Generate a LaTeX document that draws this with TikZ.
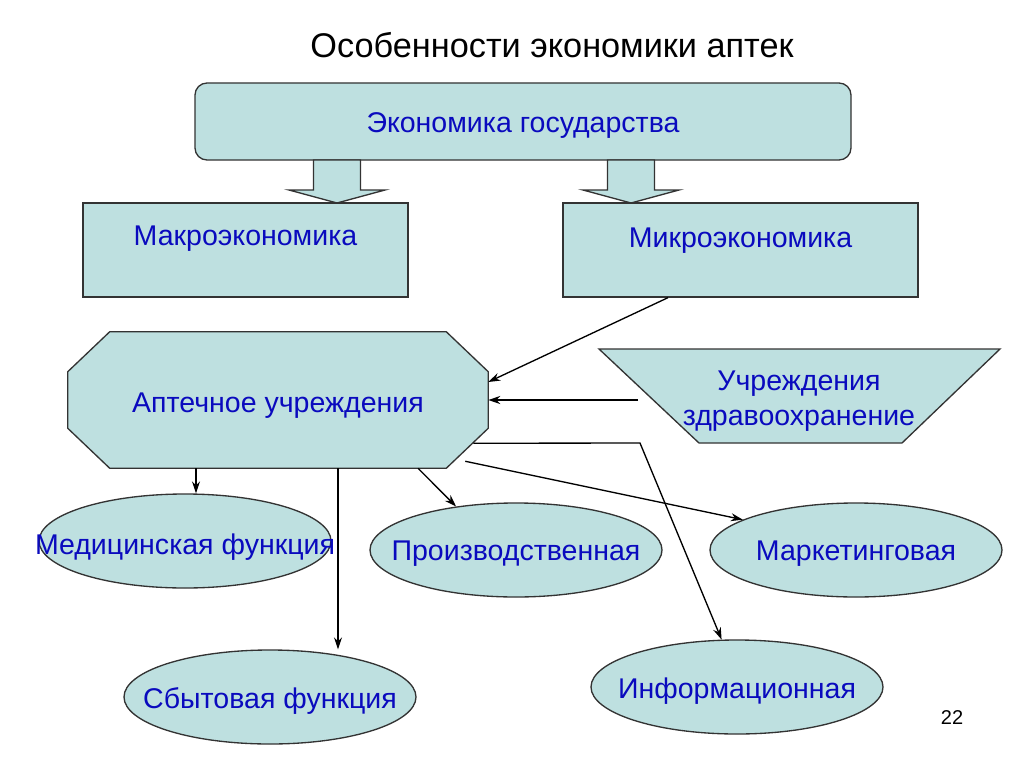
\documentclass[tikz,border=0pt]{standalone}
\usepackage{fontspec}
\setmainfont{Liberation Sans}
\usetikzlibrary{arrows.meta,shapes.geometric,backgrounds}
\definecolor{boxfill}{RGB}{190,224,224}
\definecolor{txtblue}{RGB}{10,10,190}
\begin{document}
\begin{tikzpicture}[x=0.75pt,y=-0.75pt,
  box/.style={draw=black!80,line width=1pt,fill=boxfill},
  txt/.style={text=txtblue,font=\fontsize{21.4}{26.5}\selectfont,inner sep=0pt},
  oval/.style={box,ellipse,minimum width=219pt,minimum height=70.5pt,inner sep=0pt},
  arr/.style={line width=1pt,-{Stealth[length=9pt,width=6pt]}},
  every label/.style={txt,yshift=-3pt}]
\useasboundingbox (0,0) rectangle (1024,767);
\node(title) at (552,45) {\fontsize{25.7}{30}\selectfont Особенности экономики аптек};

\node(econ) [box,rounded corners=9pt,minimum width=492pt,minimum height=57.75pt,
  label=center:{Экономика государства}] at (523,121.5) {};
\foreach \bx in {337,631}
  \draw[box] (\bx-23.5,160) -- (\bx+23.5,160) -- (\bx+23.5,190) -- (\bx+48,190)
    -- (\bx,203) -- (\bx-48,190) -- (\bx-23.5,190) -- cycle;

\node(makro) [box,minimum width=243.75pt,minimum height=70.5pt] at (245.5,250) {};
\node(makrot) [txt] at (245.5,239) {Макроэкономика};
\node(mikro) [box,minimum width=266.25pt,minimum height=70.5pt] at (740.5,250) {};
\node(mikrot) [txt] at (740.5,241) {Микроэкономика};

\node(apt) [minimum width=315pt,minimum height=102pt,txt,text height=22.8pt,text depth=4.5pt]
  at (278,400) {Аптечное учреждения};
\begin{scope}[on background layer]
\draw[box] ([xshift=31.5pt]apt.north west) -- ([xshift=-31.5pt]apt.north east)
  -- ([yshift=-30pt]apt.north east) -- ([yshift=30pt]apt.south east)
  -- ([xshift=-31.5pt]apt.south east) -- ([xshift=31.5pt]apt.south west)
  -- ([yshift=30pt]apt.south west) -- ([yshift=-30pt]apt.north west) -- cycle;
\end{scope}

\draw[box] (599,349) -- (1000,349) -- (902,443) -- (699,443) -- cycle;
\node(uz) [txt,align=center,yshift=-3pt] at (799,397) {Учреждения\\здравоохранение};
\coordinate(uzw) at (638,400);

\node(med) [oval,label={[yshift=-1.5pt]center:{Медицинская функция}}] at (185,541) {};
\node(proizv) [oval,label=center:{Производственная}] at (516,550) {};
\node(market) [oval,label=center:{Маркетинговая}] at (856,550) {};
\node(sbyt) [oval,label=center:{Сбытовая функция}] at (270,697) {};
\node(inform) [oval,label=center:{Информационная}] at (737,687) {};
\node(num) at (952,718) {\fontsize{15}{18}\selectfont 22};

\draw[arr] ([xshift=-54.4pt]mikro.south) -- ([yshift=13.5pt]apt.east);
\draw[arr] (uzw) -- (apt.east);
\draw[arr] ([xshift=-61.5pt]apt.south) -- ([xshift=-61.5pt]apt.south |- med.north);
\draw[arr] ([xshift=45pt]apt.south) -- ([xshift=45pt]apt.south |- sbyt.north);
\draw[arr] ([xshift=105pt]apt.south) -- (proizv.144);
\draw[arr] ([xshift=-17.25pt,yshift=5.25pt]apt.south east) -- (market.165);
\coordinate(bend) at (640,443);
\draw[arr] ([xshift=-11.25pt,yshift=18.75pt]apt.south east) -- (bend) -- (inform.108);
\end{tikzpicture}
\end{document}
